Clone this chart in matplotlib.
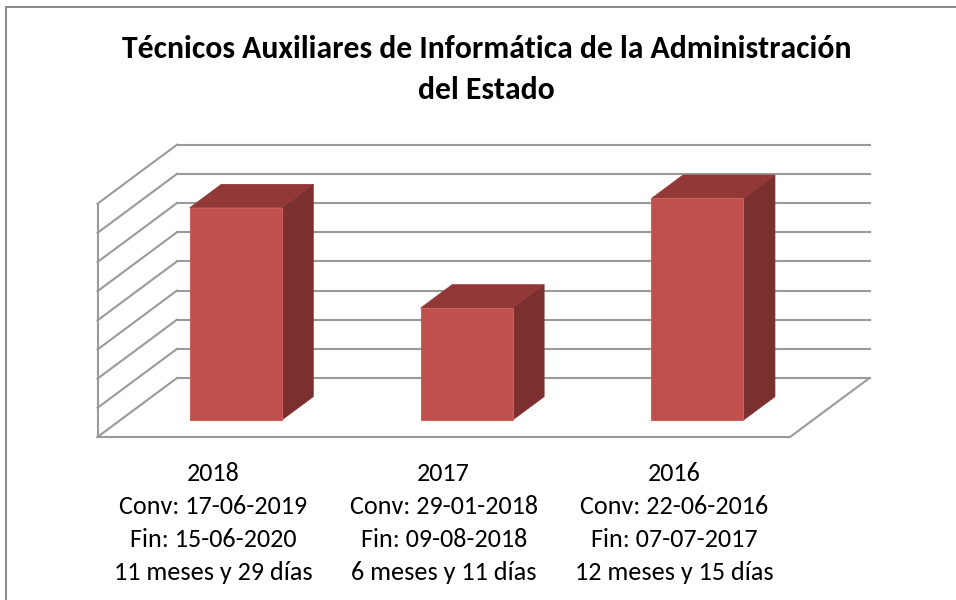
import matplotlib
matplotlib.use("Agg")
import matplotlib.pyplot as plt
from matplotlib.patches import Polygon, Rectangle
from matplotlib.lines import Line2D
import matplotlib.transforms as mtransforms

# ---------------- data ----------------
categories = ["2018", "2017", "2016"]
conv_dates = ["Conv: 17-06-2019", "Conv: 29-01-2018", "Conv: 22-06-2016"]
fin_dates = ["Fin: 15-06-2020", "Fin: 09-08-2018", "Fin: 07-07-2017"]
durations = ["11 meses y 29 días", "6 meses y 11 días", "12 meses y 15 días"]
values_days = [364, 192, 380]
grid_ticks = [0, 50, 100, 150, 200, 250, 300, 350, 400]
title_lines = ["Técnicos Auxiliares de Informática de la Administración", "del Estado"]

# ---------------- style / layout ----------------
W, H, DPI = 956, 600, 100
FONT = ["Carlito", "Lato", "DejaVu Sans"]
front_col = "#C0504D"
top_col = "#923836"
side_col = "#7B302F"
grid_col = "#9A9A9A"

fig = plt.figure(figsize=(W / DPI, H / DPI), dpi=DPI)
ax = fig.add_axes([0, 0, 1, 1])
ax.axis("off")

# pixel mapping: floor front spans px 97.5..790 for x in 0..3; value 0 at px 437
px_per_unit = (790 - 97.5) / 3.0
px_per_day = 233.3 / 400.0
x0_px, y0_px = 97.5, 437.0
ax.set_xlim(-x0_px / px_per_unit, (W - x0_px) / px_per_unit)
ax.set_ylim(-(H - y0_px) / px_per_day, y0_px / px_per_day)

DX = 79.5 / px_per_unit      # depth offset in x units
DY = 59.0 / px_per_day       # depth offset in value units


def P(x, v, d):
    return (x + d * DX, v + d * DY)


ncat = len(categories)
vmax = grid_ticks[-1]
lw = 1.5

# back wall gridlines + left wall gridlines
for g in grid_ticks:
    a, b = P(0, g, 1), P(ncat, g, 1)
    ax.add_line(Line2D([a[0], b[0]], [a[1], b[1]], color=grid_col, lw=lw, zorder=1))
    a, b = P(0, g, 0), P(0, g, 1)
    ax.add_line(Line2D([a[0], b[0]], [a[1], b[1]], color=grid_col, lw=lw, zorder=1))
# left wall front vertical edge
a, b = P(0, 0, 0), P(0, vmax, 0)
ax.add_line(Line2D([a[0], b[0]], [a[1], b[1]], color=grid_col, lw=lw, zorder=1))
# floor front and right edges
pts = [P(0, 0, 0), P(ncat, 0, 0), P(ncat, 0, 1)]
ax.add_line(Line2D([p[0] for p in pts], [p[1] for p in pts], color=grid_col, lw=lw, zorder=1))

# bars
bar_w = 92.0 / px_per_unit
d0, d1 = 0.288, 0.684
for i, v in enumerate(values_days):
    xl = i + 0.5 - bar_w / 2
    xr = i + 0.5 + bar_w / 2
    front = [P(xl, 0, d0), P(xr, 0, d0), P(xr, v, d0), P(xl, v, d0)]
    top = [P(xl, v, d0), P(xr, v, d0), P(xr, v, d1), P(xl, v, d1)]
    side = [P(xr, 0, d0), P(xr, 0, d1), P(xr, v, d1), P(xr, v, d0)]
    ax.add_patch(Polygon(side, closed=True, facecolor=side_col, edgecolor=side_col, lw=0.5, zorder=3))
    ax.add_patch(Polygon(top, closed=True, facecolor=top_col, edgecolor=top_col, lw=0.5, zorder=3))
    ax.add_patch(Polygon(front, closed=True, facecolor=front_col, edgecolor="#C9625F", lw=0.8, zorder=4))

# chart border (extends beyond right/bottom edges)
fig.add_artist(Rectangle((6 / W, -0.05), 1.2, 1 - 7 / H + 0.05, transform=fig.transFigure,
                         fill=False, edgecolor="#878787", lw=1.4))

renderer = fig.canvas.get_renderer()


def fit_size(text, weight, target_px, base=20):
    t = fig.text(0, 0, text, fontsize=base, fontfamily=FONT, fontweight=weight)
    w = t.get_window_extent(renderer).width
    t.remove()
    return base * target_px / w


# title
tsize = fit_size(title_lines[0], "bold", 730)
fig.text(487 / W, 1 - 58.5 / H, title_lines[0], ha="center", va="baseline",
         fontsize=tsize, fontfamily=FONT, fontweight="bold", color="black")
fig.text(486 / W, 1 - 99.5 / H, title_lines[1], ha="center", va="baseline",
         fontsize=tsize, fontfamily=FONT, fontweight="bold", color="black")

# category labels
lsize = fit_size(durations[0], "normal", 198)
trans = mtransforms.blended_transform_factory(ax.transData, fig.transFigure)
baselines = [481, 514, 547, 580]
for i in range(ncat):
    lines = [categories[i], conv_dates[i], fin_dates[i], durations[i]]
    for ln, by in zip(lines, baselines):
        ax.text(i + 0.5, 1 - by / H, ln, transform=trans, ha="center", va="baseline",
                fontsize=lsize, fontfamily=FONT, color="black")

fig.savefig("out.png", dpi=DPI)
